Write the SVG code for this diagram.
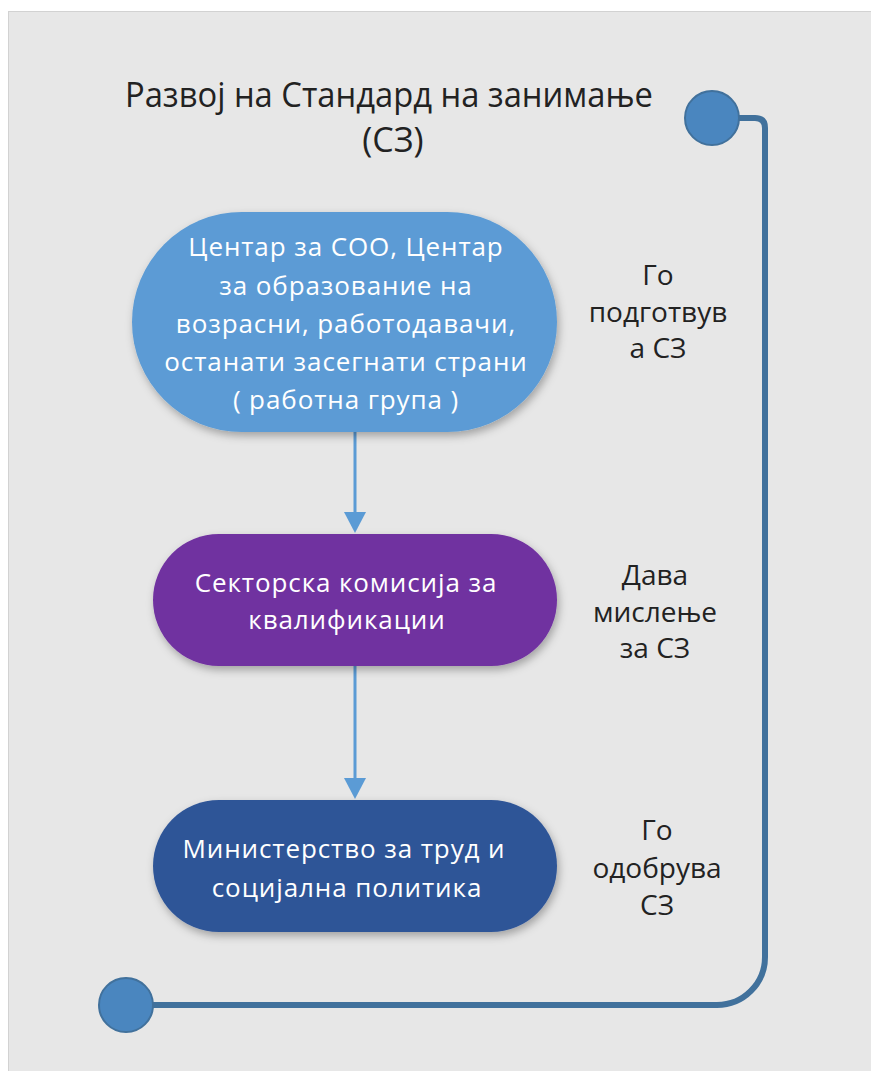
<svg xmlns="http://www.w3.org/2000/svg" width="871" height="1071" viewBox="0 0 871 1071">
<defs>
<style>
.title{font-family:"Open Sans","Noto Sans",sans-serif;font-size:34px;fill:#222;text-anchor:middle}
.ntext{font-family:"Open Sans","Noto Sans",sans-serif;font-size:26px;fill:#fff;text-anchor:middle;letter-spacing:0.9px}
.side{font-family:"Open Sans","Noto Sans",sans-serif;font-size:28px;fill:#222;text-anchor:middle}
.conn{fill:none;stroke:#41719c;stroke-width:6}
.dot{fill:#4a86bf;stroke:#41719c;stroke-width:2}
.arrow{stroke:#5b9bd5;stroke-width:3;fill:none}
.head{fill:#5b9bd5}
</style>
<filter id="sh" x="-10%" y="-10%" width="130%" height="140%">
<feDropShadow dx="2" dy="4" stdDeviation="4" flood-color="#000" flood-opacity="0.3"/>
</filter>
</defs>
<rect x="0" y="0" width="871" height="1071" fill="#fff"/>
<rect x="8.5" y="11.5" width="870" height="1070" fill="#e7e7e7" stroke="#d2d2d2" stroke-width="1"/>

<g id="title">
<text class="title" x="389" y="107" textLength="528" lengthAdjust="spacingAndGlyphs">Развој на Стандард на занимање</text>
<text class="title" x="393" y="152">(СЗ)</text>
</g>

<g id="connectors">
<path class="conn" d="M739,118 H755 Q765,118 765,128 V957 A48,48 0 0 1 717,1005 H153"/>
<line class="arrow" x1="355" y1="432" x2="355" y2="514"/>
<path class="head" d="M344,512 L366,512 L355,533 Z"/>
<line class="arrow" x1="355" y1="666" x2="355" y2="780"/>
<path class="head" d="M344,778 L366,778 L355,799 Z"/>
</g>

<g id="start-dot"><circle class="dot" cx="712" cy="118" r="27"/></g>
<g id="end-dot"><circle class="dot" cx="126" cy="1005" r="27"/></g>

<g id="node1">
<rect x="132" y="212" width="425" height="220" rx="110" ry="110" fill="#5b9bd5" filter="url(#sh)"/>
<text class="ntext" x="346" y="256">Центар за СОО, Центар</text>
<text class="ntext" x="346" y="295">за образование на</text>
<text class="ntext" x="346" y="333">возрасни, работодавачи,</text>
<text class="ntext" x="346" y="371">останати засегнати страни</text>
<text class="ntext" x="346" y="409">( работна група )</text>
</g>

<g id="node2">
<rect x="153" y="534" width="404" height="132" rx="66" ry="66" fill="#7030a0" filter="url(#sh)"/>
<text class="ntext" x="346" y="592">Секторска комисија за</text>
<text class="ntext" x="347" y="629">квалификации</text>
</g>

<g id="node3">
<rect x="153" y="800" width="404" height="132" rx="66" ry="66" fill="#2f5597" filter="url(#sh)"/>
<text class="ntext" x="344" y="858">Министерство за труд и</text>
<text class="ntext" x="347" y="897">социјална политика</text>
</g>

<g id="label1">
<text class="side" x="658" y="285">Го</text>
<text class="side" x="658" y="322">подготвув</text>
<text class="side" x="658" y="358">а СЗ</text>
</g>
<g id="label2">
<text class="side" x="655" y="585">Дава</text>
<text class="side" x="655" y="622">мислење</text>
<text class="side" x="655" y="658">за СЗ</text>
</g>
<g id="label3">
<text class="side" x="657" y="840">Го</text>
<text class="side" x="657" y="878">одобрува</text>
<text class="side" x="657" y="915">СЗ</text>
</g>
</svg>
